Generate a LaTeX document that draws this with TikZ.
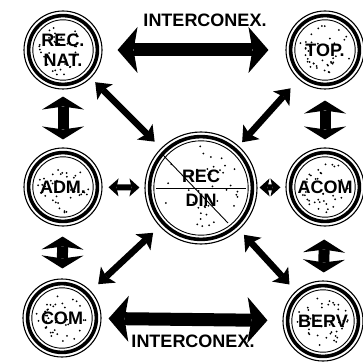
\documentclass[tikz,border=0pt]{standalone}
\usepackage{fontspec}
\setmainfont{Liberation Sans}
\usetikzlibrary{arrows.meta}
\newcommand\lblfont{\fontsize{18}{20}\selectfont\bfseries}
\begin{document}
\begin{tikzpicture}[x=1pt,y=-1pt,
  disc/.style={circle, draw, line width=1.1pt, minimum size=#1, inner sep=0pt,
    font=\lblfont, align=center,
    path picture={
      \draw[line width=3.6pt] (path picture bounding box.center) circle[radius=#1/2-4.6pt];
      \draw[line width=0.9pt] (path picture bounding box.center) circle[radius=#1/2-8.8pt];
      \foreach \k in {1,...,40}{\fill (path picture bounding box.center) ++({360*rnd}:{(#1/2-13pt)*sqrt(rnd)}) circle[radius=1pt];}
    }},
  bigtip/.tip={Stealth[width=46pt,length=20pt,inset=4pt,line width=0pt]},
  verttip/.tip={Stealth[width=42pt,length=13pt,inset=3pt,line width=0pt]},
  diagtip/.tip={Stealth[width=22pt,length=14pt,inset=3pt,line width=0pt]},
  smalltip/.tip={Stealth[width=18pt,length=10pt,inset=2pt,line width=0pt]},
  bigarr/.style={line width=13pt, bigtip-bigtip},
  vertarr/.style={line width=11pt, verttip-verttip},
  diagarr/.style={line width=6.5pt, diagtip-diagtip},
  smallarr/.style={line width=6pt, smalltip-smalltip},
  lbl/.style={font=\lblfont, inner sep=0pt}
]
\useasboundingbox (0,0) rectangle (362,363);
\pgfmathsetseed{4711}
\node[disc=78pt] (recnat) at (63,50) {REC.\\NAT.};
\node[disc=78pt] (top) at (325,50) {TOP.};
\node[disc=78pt] (adm) at (63,187) {ADM.};
\node[disc=78pt] (acom) at (325,187) {ACOM};
\node[disc=78pt] (com) at (62,318) {COM};
\node[disc=80pt] (berv) at (323,321) {BERV};
\node[disc=112pt] (recdin) at (201,188) {REC\\[4pt]DIN};
\draw[line width=0.9pt] ([shift={(-45,0)}]recdin.center) -- ([shift={(45,0)}]recdin.center);
\draw[line width=0.9pt] ([shift={(-38,-33)}]recdin.center) -- ([shift={(27,35)}]recdin.center);
% interconnection arrows
\draw[bigarr, shorten <=15pt, shorten >=17pt] (recnat) -- (top);
\draw[bigarr, shorten <=7pt, shorten >=15pt] (com) -- (berv);
\node[lbl] (ictop) at (205,20) {INTERCONEX.};
\node[lbl] (icbot) at (193,341) {INTERCONEX.};
% vertical
\draw[vertarr, shorten <=7pt, shorten >=8pt] (recnat) -- (adm);
\draw[vertarr, shorten <=10pt, shorten >=10pt] (adm) -- (com);
\draw[vertarr, shorten <=11pt, shorten >=8pt] (top) -- (acom);
\draw[vertarr, shorten <=13pt, shorten >=8pt] (acom) -- (berv);
% diagonal
\draw[diagarr, shorten <=6pt, shorten >=9pt] (recnat) -- (recdin);
\draw[diagarr, shorten <=12pt, shorten >=5pt] (top) -- (recdin);
\draw[diagarr, shorten <=10pt, shorten >=9pt] (com) -- (recdin);
\draw[diagarr, shorten <=9pt, shorten >=7pt] (berv) -- (recdin);
% horizontal short
\draw[smallarr, shorten <=6pt, shorten >=5pt] (adm) -- (recdin);
\draw[smallarr, shorten <=5pt, shorten >=2pt] (acom) -- (recdin);
\end{tikzpicture}
\end{document}
